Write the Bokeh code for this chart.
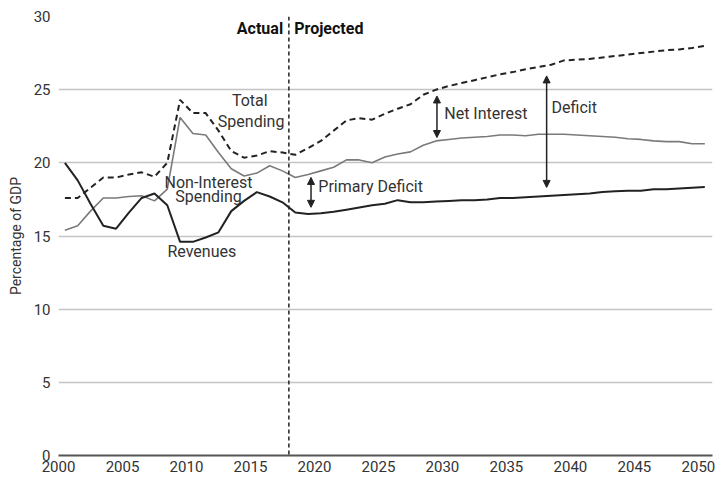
from bokeh.plotting import figure
from bokeh.models import (ColumnDataSource, Range1d, FixedTicker, Span, Label,
                          Arrow, NormalHead)
from bokeh.transform import dodge
from bokeh.embed import file_html
from bokeh.resources import INLINE

# ---- data (percentage of GDP) ----
years = list(range(2000, 2051))

revenues = [20.0, 18.8, 17.2, 15.7, 15.5, 16.6, 17.6, 17.9, 17.1, 14.6,
            14.6, 14.9, 15.25, 16.7, 17.4, 18.0, 17.7, 17.3, 16.6,
            16.5, 16.55, 16.65, 16.8, 16.95, 17.1, 17.2, 17.45, 17.3, 17.3,
            17.35, 17.4, 17.45, 17.45, 17.5, 17.6, 17.6, 17.65, 17.7, 17.75,
            17.8, 17.85, 17.9, 18.0, 18.05, 18.1, 18.1, 18.2, 18.2, 18.25,
            18.3, 18.35]

non_interest_spending = [15.4, 15.7, 16.7, 17.6, 17.6, 17.7, 17.75, 17.4, 18.2, 23.1,
                         22.0, 21.9, 20.7, 19.6, 19.1, 19.3, 19.8, 19.45, 19.0,
                         19.2, 19.45, 19.7, 20.2, 20.2, 20.0, 20.4, 20.6, 20.75, 21.2,
                         21.5, 21.6, 21.7, 21.75, 21.8, 21.9, 21.9, 21.85, 21.95, 21.95,
                         21.95, 21.9, 21.85, 21.8, 21.75, 21.65, 21.6, 21.5, 21.45, 21.45,
                         21.3, 21.3]

total_spending = [17.6, 17.6, 18.3, 19.0, 19.0, 19.2, 19.35, 19.05, 20.0, 24.3,
                  23.4, 23.4, 22.2, 20.8, 20.35, 20.5, 20.8, 20.7, 20.55,
                  21.0, 21.5, 22.2, 22.9, 23.05, 22.95, 23.35, 23.7, 24.0, 24.65,
                  25.0, 25.25, 25.45, 25.65, 25.85, 26.05, 26.2, 26.4, 26.55, 26.7,
                  27.0, 27.05, 27.1, 27.2, 27.3, 27.4, 27.5, 27.6, 27.7, 27.75,
                  27.85, 28.0]

x_ticks = [2000, 2005, 2010, 2015, 2020, 2025, 2030, 2035, 2040, 2045, 2050]
y_ticks = [0, 5, 10, 15, 20, 25, 30]
split_year = 2018

src = ColumnDataSource(dict(year=years, rev=revenues, nis=non_interest_spending,
                            tot=total_spending))

FONT = "Roboto"
TXT = "#333333"

p = figure(width=719, height=477, output_backend="svg", toolbar_location=None,
           x_range=Range1d(2000, 2051.1), y_range=Range1d(0, 30),
           min_border_left=58, min_border_right=7, min_border_top=16,
           min_border_bottom=22)
p.outline_line_color = None
p.background_fill_color = "white"
p.border_fill_color = "white"

# grid
p.xgrid.grid_line_color = None
p.ygrid.grid_line_color = "#c4c4c4"
p.ygrid.grid_line_width = 1.5
p.ygrid.ticker = FixedTicker(ticks=y_ticks)

# axes
p.xaxis.ticker = FixedTicker(ticks=x_ticks)
p.yaxis.ticker = FixedTicker(ticks=y_ticks)
for ax in (p.xaxis[0], p.yaxis[0]):
    ax.major_tick_line_color = None
    ax.minor_tick_line_color = None
    ax.major_tick_out = 0
    ax.major_tick_in = 0
    ax.major_label_text_font = FONT
    ax.major_label_text_font_size = "15px"
    ax.major_label_text_color = TXT
p.yaxis.axis_line_color = None
p.yaxis.major_label_standoff = 8
p.yaxis.axis_label = "Percentage of GDP"
p.yaxis.axis_label_text_font = FONT
p.yaxis.axis_label_text_font_size = "14px"
p.yaxis.axis_label_text_font_style = "normal"
p.yaxis.axis_label_text_color = TXT
p.yaxis.axis_label_standoff = 7
p.xaxis.axis_line_color = "#555555"
p.xaxis.axis_line_width = 2
p.xaxis.major_label_standoff = 5

# series lines (fiscal-year values drawn at mid-year)
xd = dodge("year", 0.5)
p.line(x=xd, y="nis", source=src, line_color="#7a7a7a", line_width=1.6)
p.line(x=xd, y="rev", source=src, line_color="#222222", line_width=2)
p.line(x=xd, y="tot", source=src, line_color="#222222", line_width=2,
       line_dash="6 4")

# actual / projected divider
p.add_layout(Span(location=split_year, dimension="height", line_color="#222222",
                  line_width=1.5, line_dash="4 3"))


def lab(x, y, text, align="left", bold=False):
    p.add_layout(Label(x=x, y=y, text=text, text_font=FONT, text_font_size="16px",
                       text_color="#111111" if bold else TXT,
                       text_font_style="bold" if bold else "normal",
                       text_align=align, text_baseline="middle"))


lab(2017.55, 29.15, "Actual", align="right", bold=True)
lab(2018.42, 29.15, "Projected", bold=True)
lab(2014.95, 24.24, "Total", align="center")
lab(2015.05, 22.82, "Spending", align="center")
lab(2011.72, 18.66, "Non-Interest", align="center")
lab(2011.72, 17.69, "Spending", align="center")
lab(2011.2, 13.94, "Revenues", align="center")
lab(2020.3, 18.39, "Primary Deficit")
lab(2030.14, 23.37, "Net Interest")
lab(2038.53, 23.78, "Deficit")


def darrow(x, y0, y1):
    p.add_layout(Arrow(x_start=x, y_start=y0, x_end=x, y_end=y1,
                       line_color="#222222", line_width=1.5,
                       start=NormalHead(size=7, fill_color="#222222",
                                        line_color="#222222"),
                       end=NormalHead(size=7, fill_color="#222222",
                                      line_color="#222222")))


darrow(2019.73, 19.0, 16.96)
darrow(2029.57, 24.57, 21.73)
darrow(2038.14, 25.94, 18.32)

open("out.html", "w").write(file_html(p, INLINE))
